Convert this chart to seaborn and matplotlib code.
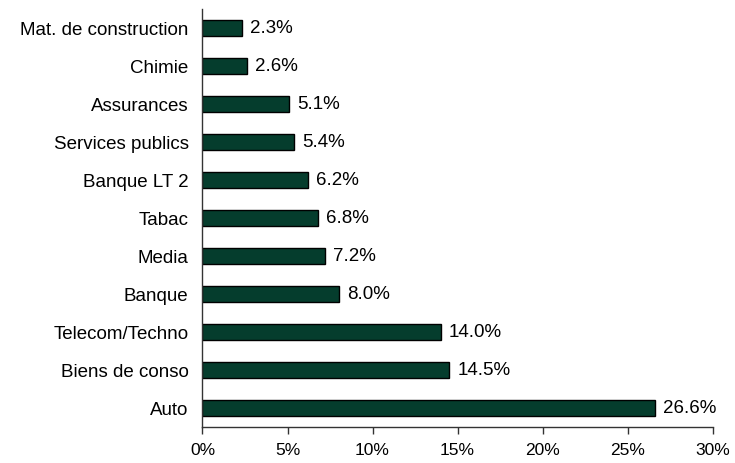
import matplotlib
matplotlib.use("Agg")
import matplotlib.pyplot as plt
import seaborn as sns
import pandas as pd
from matplotlib.ticker import FuncFormatter

sectors = ["Mat. de construction", "Chimie", "Assurances", "Services publics",
           "Banque LT 2", "Tabac", "Media", "Banque", "Telecom/Techno",
           "Biens de conso", "Auto"]
weights = [2.3, 2.6, 5.1, 5.4, 6.2, 6.8, 7.2, 8.0, 14.0, 14.5, 26.6]
x_ticks = [0, 5, 10, 15, 20, 25, 30]

df = pd.DataFrame({"sector": sectors, "weight": weights})

sns.set_theme(style="white")
plt.rcParams["font.family"] = ["Liberation Sans", "DejaVu Sans"]

fig = plt.figure(figsize=(7.35, 4.64), dpi=100)
ax = fig.add_axes([0.2755, 0.0776, 0.694, 0.9009])

sns.barplot(data=df, y="sector", x="weight", orient="h", color="#053d2d",
            edgecolor="black", linewidth=1.0, width=0.43, saturation=1, ax=ax)

labels = [f"{v:.1f}%" for v in weights]
ax.bar_label(ax.containers[0], labels=labels, padding=6, fontsize=13.5, color="black")

ax.set_xlim(0, 30)
ax.set_ylim(len(sectors) - 0.5, -0.5)
ax.set_xticks(x_ticks)
ax.xaxis.set_major_formatter(FuncFormatter(lambda v, _: f"{v:.0f}%"))
ax.set_xlabel("")
ax.set_ylabel("")

for s in ["top", "right"]:
    ax.spines[s].set_visible(False)
for s in ["left", "bottom"]:
    ax.spines[s].set_color("#333333")
    ax.spines[s].set_linewidth(1.0)

ax.tick_params(axis="x", bottom=True, direction="out", length=5, width=1,
               color="#333333", labelsize=12.5, labelcolor="black", pad=6)
ax.tick_params(axis="y", left=False, labelsize=13.5, labelcolor="black", pad=4)

fig.savefig("out.png", dpi=100)
